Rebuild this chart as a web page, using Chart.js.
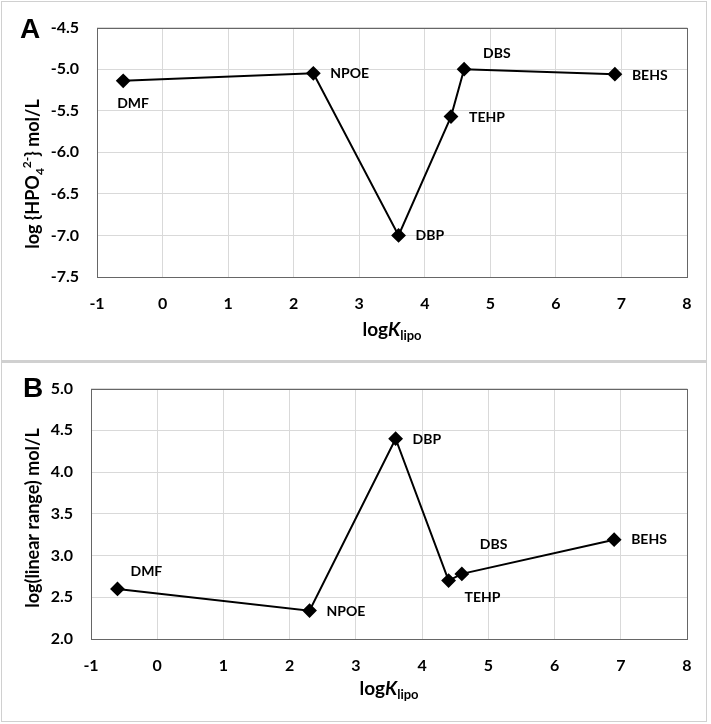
<!DOCTYPE html>
<html>
<head>
<meta charset="utf-8">
<script src="https://cdn.jsdelivr.net/npm/chart.js@4.4.1/dist/chart.umd.min.js"></script>
<style>
  body { margin: 0; background: #fff; }
  .panel { position: absolute; left: 1px; width: 706px; border: 1px solid #d0d0d0; box-sizing: border-box; }
  #boxA { top: 1px; height: 360px; }
  #boxB { top: 361px; height: 361px; border-top: 2px solid #d0d0d0; }
  canvas { position: absolute; left: 0; }
  #chartA { top: 0; }
  #chartB { top: 361px; }
</style>
</head>
<body>
<div class="panel" id="boxA"></div>
<div class="panel" id="boxB"></div>
<canvas id="chartA" width="711" height="360"></canvas>
<canvas id="chartB" width="711" height="363"></canvas>
<script>
// 데이터
const names = ["DMF", "NPOE", "DBP", "TEHP", "DBS", "BEHS"];
const logKlipo = [-0.6, 2.3, 3.6, 4.4, 4.6, 6.9];
const logHPO4 = [-5.14, -5.05, -7.0, -5.57, -5.0, -5.06];
const logLinearRange = [2.6, 2.34, 4.4, 2.7, 2.78, 3.19];

// 라벨 위치 오프셋 (px)
const offsetsA = [[-6, 23], [17, 0], [17, 0], [18, 1], [19, -16], [17, 1]];
const offsetsB = [[13, -17], [17, 1], [17, 1], [16, 17], [18, -29], [17, 0]];

const FONT = "Lato, 'Open Sans', sans-serif";

// 텍스트 조각들을 이어서 그리는 함수 (아래첨자/위첨자 처리)
function drawRuns(ctx, runs, cx, cy, rotate) {
  ctx.save();
  ctx.translate(cx, cy);
  if (rotate) ctx.rotate(-Math.PI / 2);
  let total = 0;
  runs.forEach((r) => {
    ctx.font = r.font;
    r.w = ctx.measureText(r.text).width;
    total += r.w;
  });
  let x = -total / 2;
  ctx.fillStyle = "#000";
  ctx.textBaseline = "alphabetic";
  ctx.textAlign = "left";
  runs.forEach((r) => {
    ctx.font = r.font;
    ctx.fillText(r.text, x, r.dy || 0);
    x += r.w;
  });
  ctx.restore();
}

const xTitleRuns = [
  { text: "log", font: "bold 19px " + FONT },
  { text: "K", font: "italic bold 19px " + FONT },
  { text: "lipo", font: "bold 13px " + FONT, dy: 4 },
];

const makePanelPlugin = (letter, letterPos, yRuns, yPos, xPos, offsets) => ({
  id: "panelText" + letter,
  beforeDatasetsDraw(chart) {
    const { ctx, chartArea } = chart;
    ctx.save();
    ctx.strokeStyle = "#666";
    ctx.lineWidth = 1;
    ctx.strokeRect(
      Math.round(chartArea.left) + 0.5,
      Math.round(chartArea.top) + 0.5,
      Math.round(chartArea.right - chartArea.left),
      Math.round(chartArea.bottom - chartArea.top)
    );
    ctx.restore();
  },
  afterDraw(chart) {
    const ctx = chart.ctx;
    ctx.save();
    ctx.fillStyle = "#000";
    ctx.font = "bold 28px 'Liberation Sans', Arial, sans-serif";
    ctx.textAlign = "left";
    ctx.textBaseline = "alphabetic";
    ctx.fillText(letter, letterPos[0], letterPos[1]);
    ctx.restore();

    drawRuns(ctx, yRuns, yPos[0], yPos[1], true);
    drawRuns(ctx, xTitleRuns, xPos[0], xPos[1], false);

    // 점 라벨
    const meta = chart.getDatasetMeta(0);
    ctx.save();
    ctx.fillStyle = "#000";
    ctx.font = "bold 14px " + FONT;
    ctx.textAlign = "left";
    ctx.textBaseline = "middle";
    meta.data.forEach((pt, i) => {
      ctx.fillText(names[i], pt.x + offsets[i][0], pt.y + offsets[i][1]);
    });
    ctx.restore();
  },
});

function makeChart(canvasId, values, yMin, yMax, pad, yWidth, xHeight, plugin) {
  const ctx = document.getElementById(canvasId).getContext("2d");
  return new Chart(ctx, {
    type: "scatter",
    data: {
      datasets: [
        {
          data: logKlipo.map((x, i) => ({ x: x, y: values[i] })),
          showLine: true,
          borderColor: "#000",
          borderWidth: 2,
          backgroundColor: "#000",
          pointStyle: "rectRot",
          pointRadius: 6,
          pointHoverRadius: 6,
          tension: 0,
        },
      ],
    },
    options: {
      responsive: false,
      animation: false,
      layout: { padding: pad },
      plugins: {
        legend: { display: false },
        tooltip: { enabled: false },
      },
      scales: {
        x: {
          type: "linear",
          min: -1,
          max: 8,
          afterFit: (s) => { s.height = xHeight; },
          ticks: {
            stepSize: 1,
            padding: 17,
            color: "#000",
            font: { family: FONT, size: 16, weight: "bold" },
          },
          grid: { color: "#d9d9d9", drawTicks: false },
          border: { display: false },
        },
        y: {
          min: yMin,
          max: yMax,
          afterFit: (s) => { s.width = yWidth; },
          ticks: {
            stepSize: 0.5,
            padding: 18,
            color: "#000",
            font: { family: FONT, size: 16, weight: "bold" },
            callback: (v) => v.toFixed(1),
          },
          grid: { color: "#d9d9d9", drawTicks: false },
          border: { display: false },
        },
      },
    },
    plugins: [plugin],
  });
}

// A 패널
const yRunsA = [
  { text: "log {HPO", font: "bold 18px " + FONT },
  { text: "4", font: "bold 12px " + FONT, dy: 5 },
  { text: "2-", font: "bold 12px " + FONT, dy: -8 },
  { text: "} mol/L", font: "bold 18px " + FONT },
];
makeChart(
  "chartA", logHPO4, -7.5, -4.5,
  { top: 19, right: 24, left: 0, bottom: 0 }, 97, 83,
  makePanelPlugin("A", [20, 38], yRunsA, [39, 174], [392, 336], offsetsA)
);

// B 패널
const yRunsB = [{ text: "log(linear range) mol/L", font: "bold 18px " + FONT }];
makeChart(
  "chartB", logLinearRange, 2.0, 5.0,
  { top: 21, right: 24, left: 0, bottom: 0 }, 91, 85,
  makePanelPlugin("B", [23, 36], yRunsB, [39, 157], [389, 334], offsetsB)
);
</script>
</body>
</html>
